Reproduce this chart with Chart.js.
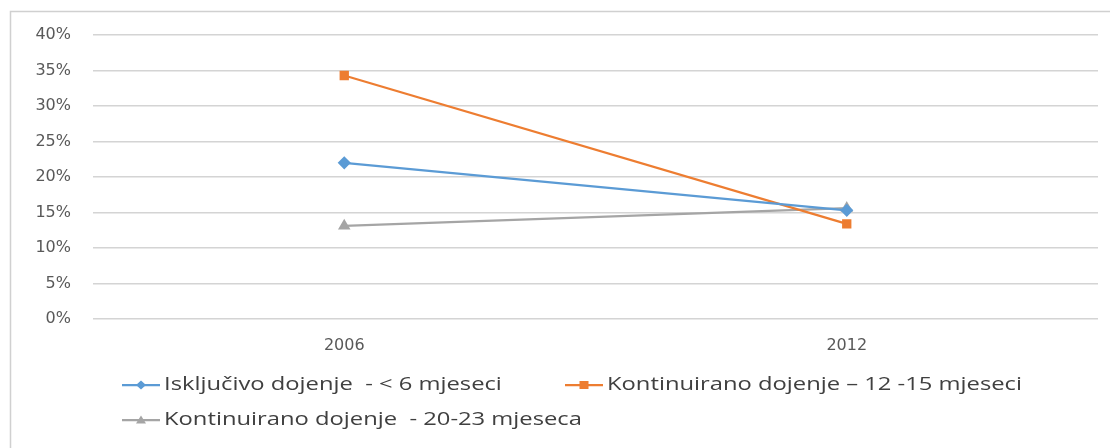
<!DOCTYPE html>
<html>
<head>
<meta charset="utf-8">
<script src="https://cdn.jsdelivr.net/npm/chart.js@4.4.1/dist/chart.umd.min.js"></script>
<style>
  html, body { margin: 0; padding: 0; background: #ffffff; }
  #wrap { position: relative; width: 1110px; height: 448px; }
  canvas { display: block; }
</style>
</head>
<body>
<div id="wrap"><canvas id="c" width="1110" height="448"></canvas></div>
<script>
const categories = ['2006', '2012'];
const seriesLabels = [
  'Isključivo dojenje  - < 6 mjeseci',
  'Kontinuirano dojenje – 12 -15 mjeseci',
  'Kontinuirano dojenje  - 20-23 mjeseca'
];
const exclusive6 = [22.0, 15.3];
const continued12to15 = [34.3, 13.4];
const continued20to23 = [13.1, 15.6];
const yTicks = [0, 5, 10, 15, 20, 25, 30, 35, 40];

const colors = ['#5b9bd5', '#ed7d31', '#a5a5a5'];
const styles = ['rectRot', 'rect', 'triangle'];
const tickFont = { family: '"DejaVu Sans", "Liberation Sans", sans-serif', size: 16 };

const backgroundPlugin = {
  id: 'bg',
  beforeDraw(chart) {
    const ctx = chart.ctx;
    ctx.save();
    ctx.fillStyle = '#ffffff';
    ctx.fillRect(0, 0, chart.width, chart.height);
    ctx.strokeStyle = '#d0d0d0';
    ctx.lineWidth = 1.5;
    ctx.strokeRect(10.5, 11.5, 1120, 460);
    ctx.restore();
  }
};

function drawMarker(ctx, style, x, y, color) {
  ctx.fillStyle = color;
  ctx.beginPath();
  if (style === 'rect') {
    ctx.rect(x - 4.5, y - 4, 9, 8);
  } else if (style === 'rectRot') {
    ctx.moveTo(x, y - 4.5); ctx.lineTo(x + 5, y); ctx.lineTo(x, y + 4.5); ctx.lineTo(x - 5, y);
    ctx.closePath();
  } else {
    ctx.moveTo(x, y - 4.5); ctx.lineTo(x + 5, y + 3.5); ctx.lineTo(x - 5, y + 3.5);
    ctx.closePath();
  }
  ctx.fill();
}

const legendPlugin = {
  id: 'customLegend',
  afterDraw(chart) {
    const ctx = chart.ctx;
    const slots = [
      { x: 122, y: 385 },
      { x: 565, y: 385 },
      { x: 122, y: 420 }
    ];
    const stretch = 1.32;
    ctx.save();
    ctx.font = '18px "Open Sans", "Liberation Sans", sans-serif';
    ctx.textBaseline = 'middle';
    ctx.textAlign = 'left';
    chart.data.datasets.forEach((ds, i) => {
      const s = slots[i];
      ctx.strokeStyle = ds.borderColor;
      ctx.lineWidth = 2.25;
      ctx.beginPath();
      ctx.moveTo(s.x, s.y);
      ctx.lineTo(s.x + 38, s.y);
      ctx.stroke();
      drawMarker(ctx, styles[i], s.x + 19, s.y, ds.borderColor);
      ctx.save();
      ctx.translate(s.x + 42, s.y);
      ctx.scale(stretch, 1);
      ctx.fillStyle = '#404040';
      ctx.fillText(ds.label, 0, 0);
      ctx.restore();
    });
    ctx.restore();
  }
};

const data = {
  labels: categories,
  datasets: [exclusive6, continued12to15, continued20to23].map((vals, i) => ({
    label: seriesLabels[i],
    data: vals,
    borderColor: colors[i],
    backgroundColor: colors[i],
    borderWidth: 2.25,
    pointStyle: styles[i],
    pointRadius: 5,
    pointHoverRadius: 5,
    tension: 0,
    fill: false
  }))
};

new Chart(document.getElementById('c'), {
  type: 'line',
  data,
  plugins: [backgroundPlugin, legendPlugin],
  options: {
    responsive: false,
    animation: false,
    devicePixelRatio: 1,
    layout: { padding: { top: 35, right: 12, bottom: 89, left: 0 } },
    plugins: {
      legend: { display: false },
      tooltip: { enabled: false },
      title: { display: false }
    },
    scales: {
      x: {
        offset: true,
        grid: { display: false, drawTicks: false },
        border: { display: false },
        ticks: { color: '#595959', font: tickFont, padding: 17 },
        afterFit(axis) { axis.height = 40; }
      },
      y: {
        min: 0,
        max: 40,
        afterBuildTicks(axis) { axis.ticks = yTicks.map(v => ({ value: v })); },
        grid: { color: '#d4d4d4', lineWidth: 1.5, drawTicks: false },
        border: { display: false },
        ticks: {
          color: '#595959',
          font: tickFont,
          padding: 22,
          callback: v => v + '%'
        },
        afterFit(axis) { axis.width = 93; }
      }
    }
  }
});
</script>
</body>
</html>
